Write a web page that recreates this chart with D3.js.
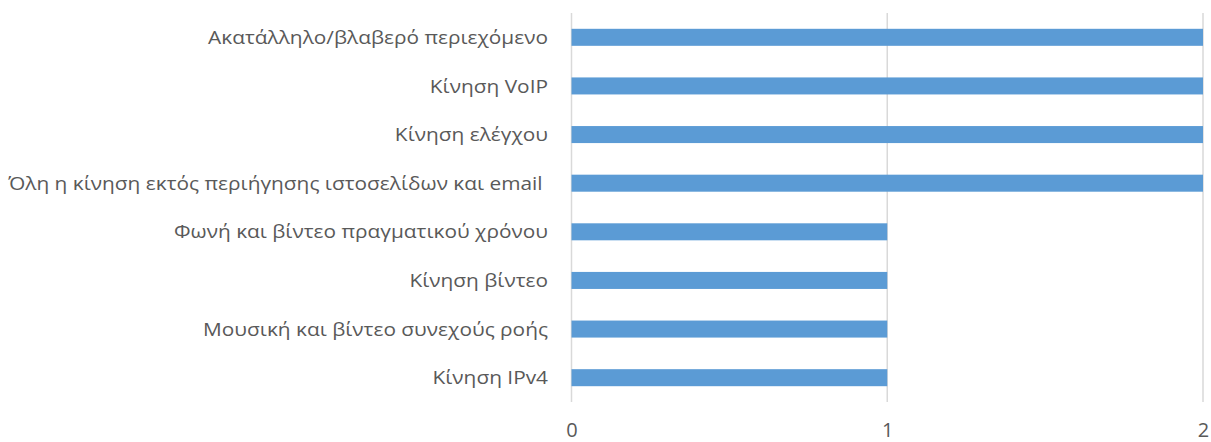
<!DOCTYPE html>
<html>
<head>
<meta charset="utf-8">
<script src="https://cdn.jsdelivr.net/npm/d3@7"></script>
<style>
  html, body { margin: 0; padding: 0; background: #fff; }
  svg { display: block; }
  text { font-family: "Open Sans", "Noto Sans", sans-serif; fill: #595959; }
</style>
</head>
<body>
<svg id="chart" width="1211" height="442"></svg>
<script>
// Traffic categories, top to bottom
const categories = [
  "Ακατάλληλο/βλαβερό περιεχόμενο",
  "Κίνηση VoIP",
  "Κίνηση ελέγχου",
  "Όλη η κίνηση εκτός περιήγησης ιστοσελίδων και email ",
  "Φωνή και βίντεο πραγματικού χρόνου",
  "Κίνηση βίντεο",
  "Μουσική και βίντεο συνεχούς ροής",
  "Κίνηση IPv4"
];
const values = [2, 2, 2, 2, 1, 1, 1, 1];
const xTicks = [0, 1, 2];

const svg = d3.select("#chart");
const plotTop = 13, plotBottom = 402;

const x = d3.scaleLinear().domain([0, 2]).range([571.5, 1203]);
const y = d3.scaleBand().domain(categories)
  .range([plotTop, plotBottom]).paddingInner(0.65).paddingOuter(0.325);

// vertical gridlines
svg.append("g").selectAll("line").data(xTicks).join("line")
  .attr("x1", d => x(d)).attr("x2", d => x(d))
  .attr("y1", plotTop).attr("y2", plotBottom)
  .attr("stroke", "#d9d9d9").attr("stroke-width", 1.5);

// bars
svg.append("g").selectAll("rect").data(values).join("rect")
  .attr("x", x(0))
  .attr("y", (d, i) => y(categories[i]))
  .attr("width", d => x(d) - x(0))
  .attr("height", y.bandwidth())
  .attr("fill", "#5b9bd5");

// category labels (slightly widened face)
const labels = svg.append("g").selectAll("text").data(categories).join("text")
  .attr("text-anchor", "end")
  .attr("dy", "0.35em")
  .style("font-size", "19px")
  .style("white-space", "pre")
  .text(d => d);
const longest = labels.nodes()[3].getComputedTextLength();
const sx = 540 / longest;
labels.attr("transform", d => `translate(548,${y(d) + y.bandwidth() / 2}) scale(${sx},1)`);

// x-axis tick labels
const xAxis = d3.axisBottom(x).tickValues(xTicks).tickSize(0).tickPadding(0)
  .tickFormat(d3.format("d"));
const gx = svg.append("g").attr("transform", "translate(0,423)").call(xAxis);
gx.select(".domain").remove();
gx.selectAll("text")
  .attr("dy", "0.71em")
  .style("font-size", "20px")
  .style("font-family", "'Open Sans', sans-serif")
  .attr("fill", "#595959");
</script>
</body>
</html>
